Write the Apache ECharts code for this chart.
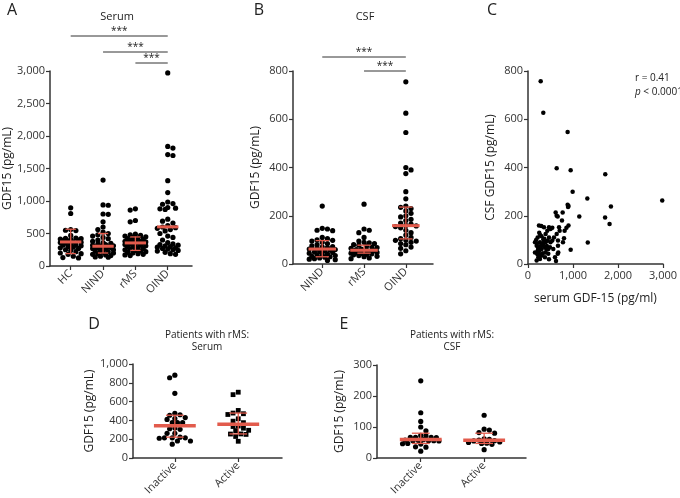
<!DOCTYPE html>
<html>
<head>
<meta charset="utf-8">
<script src="https://cdn.jsdelivr.net/npm/echarts@6/dist/echarts.min.js"></script>
<style>
  html, body { margin: 0; padding: 0; background: #fff; }
  #chart { width: 680px; height: 498px; }
</style>
</head>
<body>
<div id="chart"></div>
<script>
// ---- data (pg/mL) ----
const catsA = ['HC', 'NIND', 'rMS', 'OIND'];
const catsB = ['NIND', 'rMS', 'OIND'];
const catsDE = ['Inactive', 'Active'];

// A: serum
const serumHC = [895, 808, 560, 550, 545, 470, 430, 425, 420, 415, 410, 400, 390, 380, 370, 365, 360, 350, 340, 330, 320, 310, 300, 290, 280, 270, 250, 240, 220, 200, 190, 180, 150, 130, 125];
const serumNIND = [1322, 940, 935, 800, 795, 680, 600, 560, 520, 500, 480, 460, 440, 420, 400, 380, 360, 350, 340, 330, 320, 310, 305, 300, 295, 290, 285, 280, 270, 260, 250, 240, 230, 220, 210, 200, 190, 180, 170, 160, 150, 140, 135];
const serumRMS = [880, 860, 700, 680, 490, 480, 470, 460, 450, 440, 430, 420, 410, 400, 390, 380, 375, 370, 365, 360, 355, 350, 345, 340, 330, 320, 310, 300, 290, 280, 270, 260, 250, 240, 230, 220, 210, 200, 190, 180, 170, 160];
const serumOIND = [2970, 1840, 1815, 1715, 1700, 1312, 1130, 985, 960, 950, 900, 890, 880, 870, 720, 690, 660, 620, 600, 590, 580, 560, 540, 500, 460, 440, 400, 360, 340, 330, 320, 310, 300, 290, 280, 270, 260, 250, 240, 230, 210, 190, 180];
const serumMed = [370, 304, 355, 602];
const serumLo = [191, 200, 240, null];
const serumHi = [566, 500, 447, null];

// B: CSF
const csfNIND = [240, 148, 145, 140, 138, 110, 105, 100, 98, 95, 90, 85, 80, 75, 72, 70, 68, 65, 62, 60, 58, 55, 52, 50, 48, 45, 42, 40, 38, 35, 32, 30, 28, 25, 22, 20, 18, 15];
const csfRMS = [248, 145, 140, 130, 110, 95, 90, 88, 85, 80, 78, 75, 70, 68, 65, 62, 60, 58, 56, 55, 54, 52, 50, 48, 46, 45, 44, 42, 40, 38, 35, 32, 30, 25, 22];
const csfOIND = [755, 625, 545, 400, 390, 375, 300, 270, 240, 235, 230, 220, 210, 200, 195, 185, 180, 170, 165, 160, 158, 155, 150, 140, 130, 120, 110, 105, 100, 98, 95, 90, 85, 80, 70, 65, 55, 42];
const csfMed = [62, 57, 159];
const csfLo = [30, 45, 104];
const csfHi = [97, 78, 236];

// C: serum vs CSF
const corrSerum = [282, 340, 881, 637, 948, 1717, 992, 1318, 2983, 1843, 881, 900, 890, 1140, 1713, 1813, 1328, 948,
  615, 637, 660, 770, 755, 900, 690, 855, 800, 666, 673, 622, 466,
  155, 193, 215, 244, 296, 355, 392, 429, 466, 500, 540, 577, 437, 340, 266, 229, 303, 377, 488, 562, 637, 660,
  229, 303, 192, 266, 377, 451, 155, 215, 340, 392, 500, 466, 540, 392, 244, 288, 355, 451, 600, 703, 814, 777, 666,
  180, 210, 250, 270, 320, 360, 410, 250, 300, 200, 330, 280, 230, 420];
const corrCSF = [758, 627, 547, 397, 389, 372, 300, 271, 263, 238, 246, 240, 236, 197, 193, 166, 89, 59,
  213, 200, 197, 213, 180, 160, 152, 150, 107, 97, 48, 12, 20,
  48, 76, 110, 160, 157, 152, 124, 138, 152, 145, 150, 110, 97, 103, 90, 69, 62, 69, 69, 62, 124, 42,
  28, 35, 14, 21, 28, 42, 90, 55, 83, 90, 90, 110, 97, 48, 42, 76, 90, 62, 28, 138, 138, 90, 76,
  100, 40, 55, 120, 80, 105, 60, 130, 115, 85, 45, 35, 65, 75];

// D, E: rMS inactive vs active
const dSerumInactive = [854, 881, 688, 455, 475, 460, 410, 430, 420, 376, 376, 376, 311, 318, 305, 263, 263, 215, 215, 215, 222, 210, 181, 181, 147];
const dSerumActive = [700, 674, 478, 506, 471, 417, 463, 376, 392, 335, 340, 317, 291, 295, 256, 229, 251, 255, 178];
const dMed = [342, 358];
const dLo = [222, 256];
const dHi = [455, 478];

const eCsfInactive = [249, 146, 118, 100, 88, 73, 72, 67, 67, 66, 67, 59, 56, 56, 55, 57, 56, 58, 47, 46, 45, 36, 35, 22];
const eCsfActive = [138, 93, 90, 82, 80, 62, 60, 58, 56, 55, 52, 50, 48, 47, 44, 27];
const eMed = [60, 57];
const eLo = [47, 47];
const eHi = [80, 80];

// ---- chart ----
const chart = echarts.init(document.getElementById('chart'), null, { renderer: 'canvas' });
const FONT = '"Open Sans", "Noto Sans", sans-serif';
const AXIS = '#333';
const RED = '#e25b4c';

const grids = [
  { left: 50, top: 71, width: 142, height: 195 },   // A
  { left: 293, top: 71, width: 140, height: 193 },  // B
  { left: 528, top: 71, width: 135, height: 193 },  // C
  { left: 133, top: 364, width: 149, height: 98 },  // D
  { left: 377, top: 365, width: 149, height: 98 }   // E
];

function yAx(i, max, interval, name, gap) {
  return {
    gridIndex: i, type: 'value', min: 0, max: max, interval: interval,
    name: name, nameLocation: 'middle', nameGap: gap,
    nameTextStyle: { fontFamily: FONT, fontSize: 12, color: '#222' },
    axisLine: { show: true, lineStyle: { color: AXIS, width: 1.5 } },
    axisTick: { show: true, length: 4, lineStyle: { color: AXIS, width: 1.2 } },
    axisLabel: { fontFamily: FONT, fontSize: 11, color: '#333', margin: 5 },
    splitLine: { show: false }
  };
}
function catX(i, cats, min, max) {
  const vals = cats.map((c, k) => k + 1);
  return {
    gridIndex: i, type: 'value', min: min, max: max,
    axisLine: { show: true, onZero: false, lineStyle: { color: AXIS, width: 1.5 } },
    axisTick: { show: true, length: 4, customValues: vals, lineStyle: { color: AXIS, width: 1.2 } },
    axisLabel: { customValues: vals, rotate: 45, fontFamily: FONT, fontSize: 11, color: '#333', margin: 6,
      formatter: v => cats[Math.round(v) - 1] },
    splitLine: { show: false }
  };
}

const xAxes = [
  catX(0, catsA, 0.36, 4.75),
  catX(1, catsB, 0.3, 3.65),
  { gridIndex: 2, type: 'value', min: 0, max: 3000, interval: 1000,
    name: 'serum GDF-15 (pg/ml)', nameLocation: 'middle', nameGap: 29,
    nameTextStyle: { fontFamily: FONT, fontSize: 12, color: '#222' },
    axisLine: { show: true, onZero: false, lineStyle: { color: AXIS, width: 1.5 } },
    axisTick: { show: true, length: 4, lineStyle: { color: AXIS, width: 1.2 } },
    axisLabel: { fontFamily: FONT, fontSize: 11, color: '#333', margin: 6 },
    splitLine: { show: false } },
  catX(3, catsDE, 0.34, 2.69),
  catX(4, catsDE, 0.31, 2.66)
];
const yAxes = [
  yAx(0, 3000, 500, 'GDF15 (pg/mL)', 36),
  yAx(1, 800, 200, 'GDF15 (pg/mL)', 31),
  yAx(2, 800, 200, 'CSF GDF15 (pg/mL)', 31),
  yAx(3, 1000, 200, 'GDF15 (pg/mL)', 37),
  yAx(4, 300, 100, 'GDF15 (pg/mL)', 31)
];

// median + IQR bars
function summary(med, lo, hi) {
  return med.map((m, k) => [k + 1, m, lo[k], hi[k]]);
}
function medianSeries(i, data, halfW, capW, medWidth) {
  return {
    type: 'custom', xAxisIndex: i, yAxisIndex: i, z: 5, silent: true,
    data: data,
    renderItem: function (params, api) {
      const x = api.value(0), m = api.value(1), lo = api.value(2), hi = api.value(3);
      const children = [];
      const st = { stroke: RED, lineWidth: 1.3 };
      if (!isNaN(lo) && !isNaN(hi) && lo !== null && hi !== null) {
        const a = api.coord([x, lo]), b = api.coord([x, hi]);
        children.push({ type: 'line', shape: { x1: a[0], y1: a[1], x2: b[0], y2: b[1] }, style: st });
        [lo, hi].forEach(v => {
          const l = api.coord([x - capW, v]), r = api.coord([x + capW, v]);
          children.push({ type: 'line', shape: { x1: l[0], y1: l[1], x2: r[0], y2: r[1] }, style: st });
        });
      }
      const l = api.coord([x - halfW, m]), r = api.coord([x + halfW, m]);
      children.push({ type: 'line', shape: { x1: l[0], y1: l[1], x2: r[0], y2: r[1] },
        style: { stroke: RED, lineWidth: medWidth } });
      return { type: 'group', children: children };
    }
  };
}

const text = (x, y, s, size, opt) => Object.assign({
  type: 'text', x: x, y: y,
  style: { text: s, font: size + 'px ' + FONT, fill: '#222', textAlign: 'center', textVerticalAlign: 'middle' }
}, opt || {});

chart.setOption({
  animation: false,
  grid: grids,
  xAxis: xAxes,
  yAxis: yAxes,
  series: []
});

// beeswarm: rows of dots, spread kept inside maxOff pixels, overlap allowed when crowded
function swarm(i, center, values, diam, maxOff) {
  const placed = [];
  const p0 = chart.convertToPixel({ gridIndex: i }, [center, 0]);
  const p1 = chart.convertToPixel({ gridIndex: i }, [center + 1, 0]);
  const pxPerUnit = p1[0] - p0[0];
  const order = values.map((v, k) => k).sort((a, b) => values[b] - values[a]);
  const half = diam * 0.5;
  const cands = [0];
  for (let s = half; s <= maxOff + 0.01; s += half) { cands.push(s, -s); }
  const out = [];
  order.forEach((k, n) => {
    const py = chart.convertToPixel({ gridIndex: i }, [center, values[k]])[1];
    let best = 0, bestD = -1;
    for (let c = 0; c < cands.length; c++) {
      const cand = (n % 2) ? -cands[c] : cands[c];
      let dmin = Infinity;
      placed.forEach(p => {
        const d = Math.hypot(p[0] - cand, p[1] - py);
        if (d < dmin) dmin = d;
      });
      if (dmin >= diam * 0.92) { best = cand; bestD = dmin; break; }
      if (dmin > bestD) { bestD = dmin; best = cand; }
    }
    placed.push([best, py]);
    out.push([center + best / pxPerUnit, values[k]]);
  });
  return out;
}

function dots(i, data, size, symbol) {
  return {
    type: 'scatter', xAxisIndex: i, yAxisIndex: i, z: 3, silent: true,
    symbol: symbol || 'circle', symbolSize: size, data: data,
    itemStyle: { color: '#000', opacity: 1 }
  };
}

const series = [];
[serumHC, serumNIND, serumRMS, serumOIND].forEach((v, k) => series.push(dots(0, swarm(0, k + 1, v, 5.2, 12.5), 5.2)));
[csfNIND, csfRMS, csfOIND].forEach((v, k) => series.push(dots(1, swarm(1, k + 1, v, 5.2, 14), 5.2)));
series.push(dots(2, corrSerum.map((x, k) => [x, corrCSF[k]]), 4.5));
series.push(dots(3, swarm(3, 1, dSerumInactive, 5.2, 16), 5.2));
series.push(dots(3, swarm(3, 2, dSerumActive, 5.2, 16), 4.8, 'rect'));
series.push(dots(4, swarm(4, 1, eCsfInactive, 5.2, 19), 5.2));
series.push(dots(4, swarm(4, 2, eCsfActive, 5.2, 19), 5.2));

series.push(medianSeries(0, summary(serumMed, serumLo, serumHi), 0.33, 0.16, 3));
series.push(medianSeries(1, summary(csfMed, csfLo, csfHi), 0.33, 0.16, 3));
series.push(medianSeries(3, summary(dMed, dLo, dHi), 0.33, 0.14, 3.5));
series.push(medianSeries(4, summary(eMed, eLo, eHi), 0.33, 0.14, 3.5));

// significance bars between groups
const sigA = [[1, 4], [2, 4], [3, 4]];
const sigAy = [36, 52, 63];
const sigB = [[1, 3], [2, 3]];
const sigBy = [57, 71];
const graphics = [];
function sigBars(i, pairs, ys) {
  pairs.forEach((p, k) => {
    const x1 = chart.convertToPixel({ gridIndex: i }, [p[0], 0])[0];
    const x2 = chart.convertToPixel({ gridIndex: i }, [p[1], 0])[0];
    graphics.push({ type: 'line', shape: { x1: x1, y1: ys[k], x2: x2, y2: ys[k] }, style: { stroke: '#333', lineWidth: 1 } });
    graphics.push(text((x1 + x2) / 2, ys[k] - 5, '***', 10));
  });
}
sigBars(0, sigA, sigAy);
sigBars(1, sigB, sigBy);

graphics.push(
  text(12, 10, 'A', 16), text(259, 10, 'B', 16), text(492, 10, 'C', 16),
  text(94, 324, 'D', 16), text(344, 324, 'E', 16),
  text(117, 17, 'Serum', 11), text(365, 17, 'CSF', 11),
  text(207, 335, 'Patients with rMS:', 10), text(207, 347, 'Serum', 10),
  text(452, 335, 'Patients with rMS:', 10), text(452, 347, 'CSF', 10),
  {
    type: 'text', x: 635, y: 78,
    style: { text: 'r = 0.41', textAlign: 'left', textVerticalAlign: 'middle', font: '10px ' + FONT, fill: '#222' }
  },
  {
    type: 'text', x: 635, y: 92,
    style: {
      text: '{i|p} < 0.0001', textAlign: 'left', textVerticalAlign: 'middle',
      font: '10px ' + FONT, fill: '#222',
      rich: { i: { fontStyle: 'italic', fontFamily: FONT, fontSize: 10, fill: '#222' } }
    }
  }
);

chart.setOption({ series: series, graphic: graphics });
</script>
</body>
</html>
